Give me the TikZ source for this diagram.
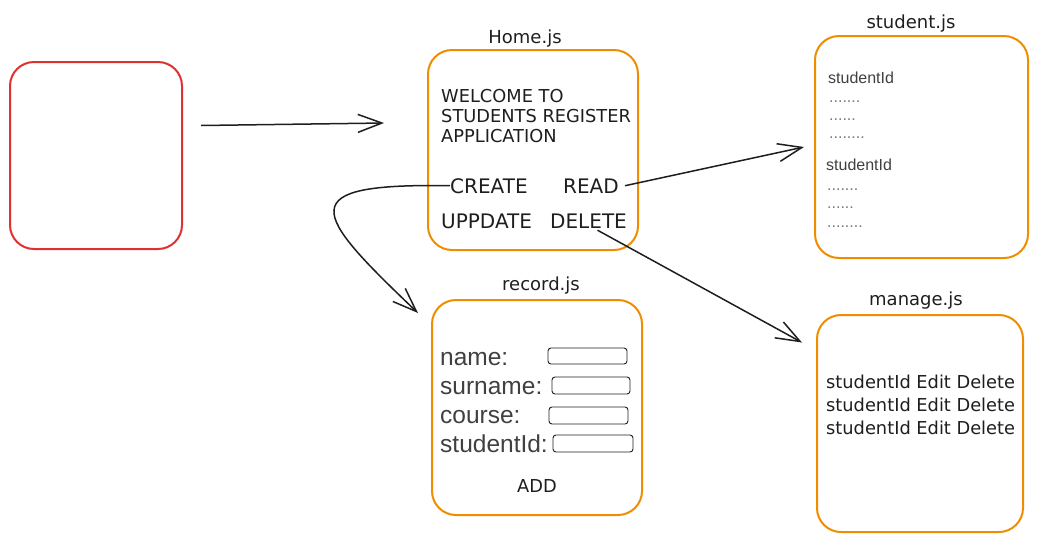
\documentclass[tikz,border=0pt]{standalone}
\usepackage{fontspec}
\setmainfont{Liberation Sans}
\newfontfamily\handfont{DejaVu Sans}
\usepackage{tikz}
\usetikzlibrary{arrows.meta, positioning}

\definecolor{boxorange}{HTML}{F08C00}
\definecolor{boxred}{HTML}{E03131}
\definecolor{ink}{HTML}{1E1E1E}

\tikzset{
  jsbox/.style={rectangle, draw=boxorange, line width=2pt, rounded corners=24pt, inner sep=0pt},
  jstitle/.style={font=\handfont\fontsize{18}{20}\selectfont, text=ink, inner sep=0pt, anchor=base},
  handtext/.style={font=\handfont\fontsize{17.8}{19}\selectfont, text=ink, inner sep=0pt, anchor=base west},
  bigtext/.style={handtext, font=\handfont\fontsize{20}{22}\selectfont},
  plaintext/.style={font=\fontsize{16}{18}\selectfont, text=ink!85, inner sep=0pt, anchor=base west},
  fieldtext/.style={plaintext, font=\fontsize{24.5}{26}\selectfont},
  dots/.style={font=\fontsize{16}{18}\selectfont, text=ink!60, inner sep=0pt, anchor=base west},
  inputbox/.style={rectangle, draw=ink, line width=0.9pt, rounded corners=3pt, inner sep=0pt},
  flow/.style={-{Straight Barb[length=24pt,width=18pt]}, line width=1.5pt, draw=ink},
}

\begin{document}
\begin{tikzpicture}[x=1pt, y=-1pt]
        \useasboundingbox (0,0) rectangle (1037,542);

        % pages
        \node[jsbox, draw=boxred, minimum width=172pt, minimum height=187pt] (Red) at (96,155.5) {};
        \node[jsbox, minimum width=210pt, minimum height=200pt] (Home) at (533,150) {};
        \node[jsbox, minimum width=213pt, minimum height=222pt] (Student) at (921.5,147) {};
        \node[jsbox, minimum width=210pt, minimum height=215pt] (Record) at (537,407.5) {};
        \node[jsbox, minimum width=206pt, minimum height=217pt] (Manage) at (920,423.5) {};

        \node[jstitle] (HomeTitle) at (525,43) {Home.js};
        \node[jstitle] (StudentTitle) at (911,28) {student.js};
        \node[jstitle] (RecordTitle) at (541,290) {record.js};
        \node[jstitle] (ManageTitle) at (916,305) {manage.js};

        % Home.js
        \node[handtext] (Welcome) at (441,102) {WELCOME TO};
        \node[handtext] (Register) at (441,122) {STUDENTS REGISTER};
        \node[handtext] (Application) at (441,142) {APPLICATION};
        \node[bigtext] (Create) at (450,193) {CREATE};
        \node[bigtext] (Read) at (563,193) {READ};
        \node[bigtext] (Update) at (441,228) {UPPDATE};
        \node[bigtext] (Delete) at (550,228) {DELETE};

        % student.js
        \node[plaintext] (IdOne) at (828,83) {studentId};
        \node[dots] (DotsA) at (829,102) {.......};
        \node[dots] (DotsB) at (829,120) {......};
        \node[dots] (DotsC) at (829,138) {........};
        \node[plaintext] (IdTwo) at (826,170) {studentId};
        \node[dots] (DotsD) at (827,190) {.......};
        \node[dots] (DotsE) at (827,208) {......};
        \node[dots] (DotsF) at (827,227) {........};

        % record.js
        \node[fieldtext] (NameLbl) at (440,365) {name:};
        \node[fieldtext] (SurnameLbl) at (440,394) {surname:};
        \node[fieldtext] (CourseLbl) at (440,423) {course:};
        \node[fieldtext] (IdLbl) at (440,452) {studentId:};
        \node[inputbox, minimum width=79pt, minimum height=16pt] (NameField) at (587.5,356) {};
        \node[inputbox, minimum width=78pt, minimum height=17pt] (SurnameField) at (591,385.5) {};
        \node[inputbox, minimum width=79pt, minimum height=17pt] (CourseField) at (588.5,415.5) {};
        \node[inputbox, minimum width=80pt, minimum height=17pt] (IdField) at (593,443.5) {};
        \node[handtext, anchor=base] (Add) at (537,492) {ADD};

        % manage.js
        \node[handtext] (RowOne) at (826,388) {studentId Edit Delete};
        \node[handtext] (RowTwo) at (826,411) {studentId Edit Delete};
        \node[handtext] (RowThree) at (826,434) {studentId Edit Delete};

        % links
        \draw[flow] ([xshift=18pt, yshift=30pt] Red.east) -- ([xshift=-43pt, yshift=27pt] Home.west);
        \draw[flow] ([xshift=6pt] Read.east) -- ([xshift=-10pt] Student.west);
        \draw[flow] ([xshift=9pt, yshift=-2pt] Delete.south) -- ([xshift=-14pt, yshift=81pt] Manage.west);
        \draw[flow] (Create.west) .. controls (290,183) and (312,212) .. ([xshift=-13pt, yshift=-14pt] Record.north west);
    \end{tikzpicture}
\end{document}
